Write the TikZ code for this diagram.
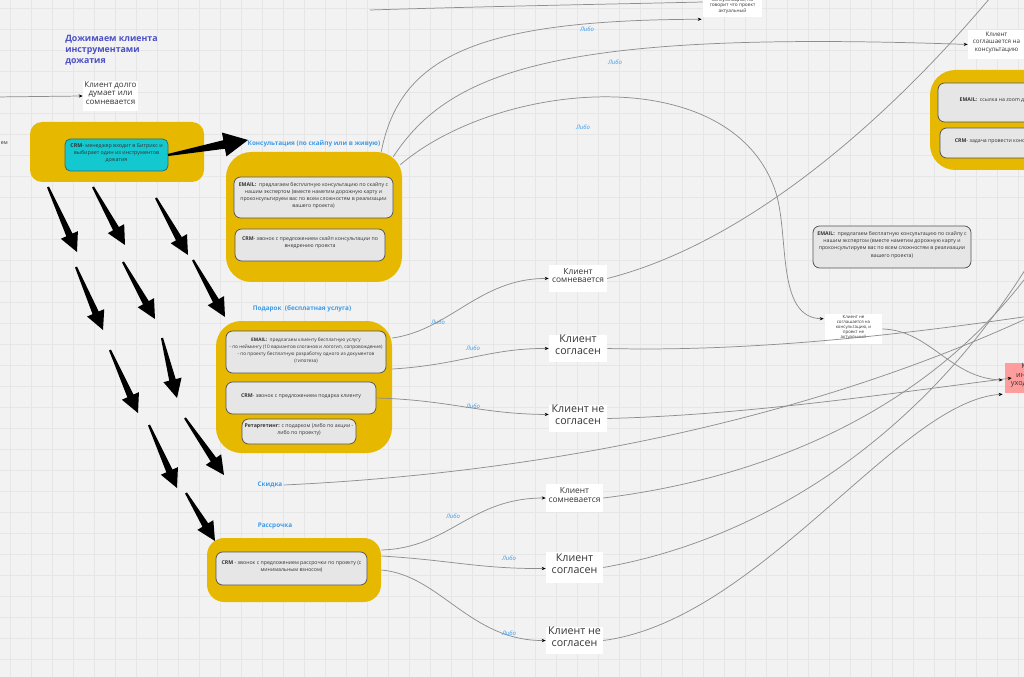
\documentclass[tikz,border=0pt]{standalone}
\usepackage{fontspec}
\setmainfont{Open Sans}
\usetikzlibrary{calc,fit,arrows.meta}
\definecolor{bg}{HTML}{F2F2F2}
\definecolor{gridc}{HTML}{E6E6E6}
\definecolor{yel}{HTML}{E6B800}
\definecolor{cyanb}{HTML}{14C8CF}
\definecolor{cyane}{HTML}{2F6F6A}
\definecolor{boxg}{HTML}{E6E6E6}
\definecolor{boxe}{HTML}{555555}
\definecolor{lblue}{HTML}{3D9BEA}
\definecolor{ttl}{HTML}{4B50C6}
\definecolor{pinkc}{HTML}{FF9D9D}
\definecolor{linec}{HTML}{8E8E8E}
\definecolor{txt}{HTML}{333333}
\newcommand\wedgearr[3]{%
\path #1 coordinate (wa) #2 coordinate (wb);
\coordinate (wc) at ($(wb)!#3*14pt!(wa)$);
\fill[black] ($(wa)!0.8pt!90:(wb)$) -- ($(wc)!#3*2.5pt!90:(wb)$) -- ($(wc)!#3*7pt!90:(wb)$) -- (wb) -- ($(wc)!#3*7pt!-90:(wb)$) -- ($(wc)!#3*2.5pt!-90:(wb)$) -- ($(wa)!0.8pt!-90:(wb)$) -- cycle;}
\tikzset{
 ybox/.style={fill=yel, draw=none, inner sep=0pt},
 gbox/.style={fill=boxg, draw=boxe, line width=0.6pt, rounded corners=5pt, inner sep=0pt, align=center, text=txt, font=\fontsize{3.9}{5.4}\selectfont},
 cbox/.style={fill=cyanb, draw=cyane, line width=0.6pt, rounded corners=4pt, inner sep=0pt, align=center, text=txt, font=\fontsize{4}{5.4}\selectfont},
 wbox/.style={fill=white, draw=none, inner sep=0pt, align=center, text=txt},
 smallcl/.style={wbox, font=\fontsize{6.3}{6.3}\selectfont},
 bigcl/.style={wbox, font=\fontsize{8}{8.8}\selectfont},
 hd/.style={text=lblue, inner sep=1pt, font=\fontsize{4.8}{6}\selectfont\bfseries},
 lib/.style={text=lblue, inner sep=0pt, font=\fontsize{4.5}{5}\selectfont\itshape},
 ln/.style={draw=linec, line width=0.55pt},
 arr/.style={ln, -{Stealth[length=3pt,width=2.4pt,color=black]}}
}
\begin{document}
\begin{tikzpicture}[x=0.75pt,y=-0.75pt]
\useasboundingbox (0,0) rectangle (1024,677);
\fill[bg] (0,0) rectangle (1024,677);
\foreach \gx in {10,31,...,1024} \draw[gridc,line width=0.5pt] (\gx,0) -- (\gx,677);
\foreach \gy in {8,29,...,677} \draw[gridc,line width=0.5pt] (0,\gy) -- (1024,\gy);

% title and left texts
\node[anchor=north west, inner sep=0pt, align=left, text=ttl, font=\fontsize{6.6}{8.25}\selectfont\bfseries] (title) at (65,35) {Дожимаем клиента\\инструментами\\дожатия};
\node[wbox, fit={(83,81) (138,111)}, font=\fontsize{6}{6.3}\selectfont] (think) {Клиент долго\\думает или\\сомневается};
\coordinate (thinkin) at (-5,97);
\draw[arr] (thinkin) -- (think.west);
\node[anchor=east, inner sep=0pt, text=txt, font=\fontsize{4}{5}\selectfont] (em) at (8,143) {ем};

% CRM start
\node[ybox, fit={(30,122) (204,182)}, rounded corners=9pt] (crmy) {};
\node[cbox, fit={(65,139) (168,171)}] (crm) {\textbf{CRM}- менеджер входит в Битрикс и\\выбирает один из инструментов\\дожатия};

% Consultation
\node[hd] (conslbl) at (314,144) {Консультация (по скайпу или в живую)};
\node[ybox, fit={(226,152) (402,282)}, rounded corners=19pt] (cons) {};
\node[gbox, fit={(234,177) (393,218)}] (cemail) {\textbf{EMAIL:}\ \ предлагаем бесплатную консультацию по скайпу с\\нашим экспертом (вместе наметим дорожную карту и\\проконсультируем вас по всем сложностям в реализации\\вашего проекта)};
\node[gbox, fit={(235,229) (385,261)}] (ccrm) {\textbf{CRM}- звонок с предложением скайп консультации по\\внедрению проекта};

% Gift
\node[hd] (giftlbl) at (302,309) {Подарок\ \ (бесплатная услуга)};
\node[ybox, fit={(216,321) (392,453)}, rounded corners=19pt] (gift) {};
\node[gbox, fit={(226,331) (386,373)}, font=\fontsize{3.55}{5.2}\selectfont] (gemail) {\textbf{EMAIL:}\ \ предлагаем клиенту бесплатную услугу\\- по неймингу (10 вариантов слоганов и логотип, сопровождение)\\- по проекту бесплатную разработку одного из документов\\(гипотеза)};
\node[gbox, fit={(226,382) (376,414)}] (gcrm) {\textbf{CRM}- звонок с предложением подарка клиенту};
\node[gbox, fit={(242,419) (356,444)}] (gret) {\textbf{Ретаргетинг:} с подарком (либо по акции -\\либо по проекту)};

% Discount, installments
\node[hd] (skid) at (270,485) {Скидка};
\node[hd] (rasslbl) at (275,526) {Рассрочка};
\node[ybox, fit={(207,538) (381,602)}, rounded corners=13pt] (rass) {};
\node[gbox, fit={(216,552) (367,585)}] (rcrm) {\textbf{CRM} - звонок с предложением рассрочки по проекту (с\\минимальным взносом)};

% client reactions
\node[smallcl, fit={(549,265) (607,292)}] (a1) {Клиент\\сомневается};
\node[bigcl, fit={(549,335) (607,362)}] (a2) {Клиент\\согласен};
\node[bigcl, fit={(549,405) (607,432)}] (a3) {Клиент не\\согласен};
\node[smallcl, fit={(546,484) (603,512)}] (b1) {Клиент\\сомневается};
\node[bigcl, fit={(546,552) (603,583)}] (b2) {Клиент\\согласен};
\node[bigcl, fit={(546,627) (603,654)}] (b3) {Клиент не\\согласен};

% right side
\node[wbox, fit={(703,-13) (762,17)}, font=\fontsize{3.6}{4.1}\selectfont] (topn) {Клиент не\\соглашается на\\консультацию, но\\говорит что проект\\актуальный};
\node[wbox, fit={(968,30) (1025,59)}, font=\fontsize{4.7}{5.6}\selectfont] (agree) {Клиент\\соглашается на\\консультацию};
\node[ybox, fit={(930,70) (1090,170)}, rounded corners=19pt] (ty) {};
\node[gbox, fit={(938,83) (1088,122)}] (temail) {\textbf{EMAIL:}\ \ ссылка на zoom для консультации};
\node[gbox, fit={(940,128) (1064,158)}] (tcrm) {\textbf{CRM}- задача провести консультацию};
\node[gbox, fit={(813,226) (971,268)}] (remail) {\textbf{EMAIL:}\ \ предлагаем бесплатную консультацию по скайпу с\\нашим экспертом (вместе наметим дорожную карту и\\проконсультируем вас по всем сложностям в реализации\\вашего проекта)};
\node[wbox, fit={(825,314) (882,344)}, font=\fontsize{3.3}{3.9}\selectfont] (notn) {Клиент не\\соглашается на\\консультацию, и\\проект не\\актуальный};
\node[fill=pinkc, inner sep=0pt, fit={(1005,363) (1075,393)}, align=center, text=txt, font=\fontsize{5.5}{6.5}\selectfont] (pink) {Клиент не\\интересуется\\уходит к другим};

% black wedge arrows
\wedgearr{(168,155)}{(248,140)}{1.3}
\wedgearr{(48,187)}{(77,252)}{1}
\wedgearr{(76,267)}{(103,330)}{1}
\wedgearr{(110,350)}{(138,413)}{1}
\wedgearr{(149,425)}{(177,488)}{1}
\wedgearr{(186,493)}{(215,541)}{1}
\wedgearr{(93,187)}{(125,245)}{1}
\wedgearr{(123,262)}{(155,319)}{1}
\wedgearr{(162,338)}{(177,398)}{1}
\wedgearr{(185,418)}{(224,475)}{1}
\wedgearr{(156,198)}{(188,255)}{1}
\wedgearr{(193,260)}{(225,317)}{1}

% consultation branches
\coordinate (topstart) at (370,10);
\draw[ln] (topstart) .. controls (500,6) and (620,4) .. (topn.west);
\draw[arr] ($(cons.north east)+(-21,0)$) .. controls (400,55) and (480,20) .. ($(topn.south west)+(-1,2)$);
\draw[arr] ($(cons.north east)+(-9,5)$) .. controls (450,70) and (560,30) .. (agree.west);
\draw[arr] ($(cons.north east)+(-2,13)$) .. controls (500,80) and (730,60) .. (775,190) .. controls (790,233) and (775,318) .. ($(notn.north west)+(-1,5)$);
\node[lib] (l1) at (587,29) {Либо};
\node[lib] (l2) at (615,62) {Либо};
\node[lib] (l3) at (583,127) {Либо};

% gift branches
\draw[arr] ($(gift.east)+(0,-49)$) .. controls (450,330) and (480,278) .. (a1.west);
\draw[arr] ($(gift.east)+(0,-18)$) .. controls (460,365) and (490,348) .. (a2.west);
\draw[arr] (gcrm.east) .. controls (450,400) and (480,414) .. ($(a3.west)+(0,-4)$);
\node[lib] (l4) at (438,322) {Либо};
\node[lib] (l5) at (473,348) {Либо};
\node[lib] (l6) at (473,406) {Либо};

% installment branches
\draw[arr] ($(rass.east)+(0,-20)$) .. controls (450,548) and (470,498) .. (b1.west);
\draw[arr] ($(rass.east)+(0,-14)$) .. controls (450,560) and (480,569) .. ($(b2.west)+(0,1)$);
\draw[arr] (rass.east) .. controls (440,575) and (470,641) .. (b3.west);
\node[lib] (l7) at (453,516) {Либо};
\node[lib] (l8) at (509,558) {Либо};
\node[lib] (l9) at (509,633) {Либо};

% outgoing lines on the right
\coordinate (r1end) at (995,-8);
\coordinate (r2end) at (1030,316);
\coordinate (r4end) at (1030,317);
\coordinate (r5end) at (1030,272);
\coordinate (r6end) at (1030,262);
\draw[ln] (a1.east) .. controls (740,245) and (880,130) .. (r1end);
\draw[ln] (a2.east) .. controls (750,352) and (900,335) .. (r2end);
\draw[arr] (a3.east) .. controls (750,415) and (900,392) .. ($(pink.west)+(7,0)$);
\draw[ln] (skid.east) .. controls (600,470) and (850,400) .. (r4end);
\draw[ln] (b1.east) .. controls (750,480) and (920,420) .. (r5end);
\draw[ln] (b2.east) .. controls (760,540) and (920,440) .. (r6end);
\draw[arr] (b3.east) .. controls (760,620) and (900,400) .. ($(pink.south west)+(-2,1)$);
\draw[arr] (notn.east) .. controls (930,330) and (950,378) .. ($(pink.west)+(-2,2)$);
\end{tikzpicture}
\end{document}
